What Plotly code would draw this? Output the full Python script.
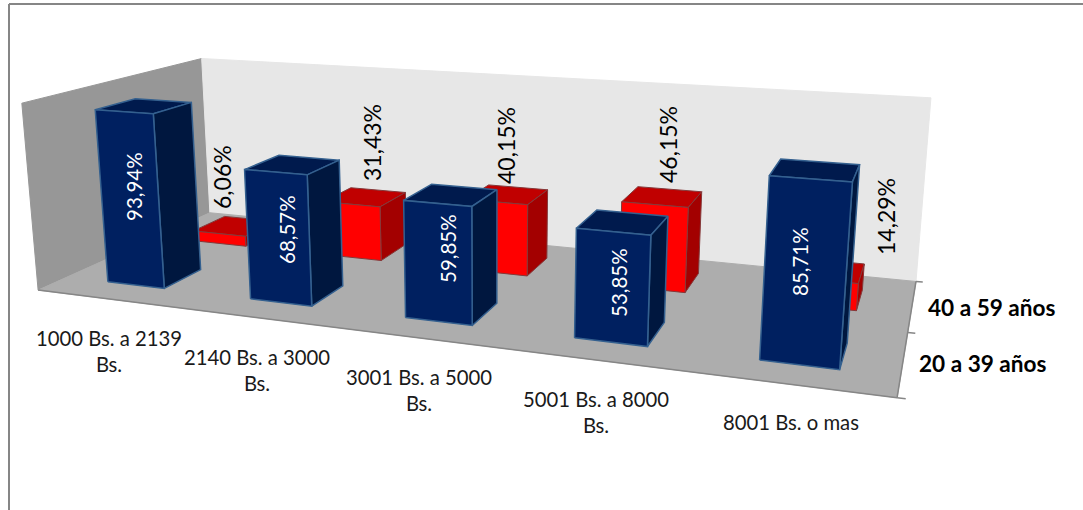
import numpy as np
import plotly.graph_objects as go

# Chart data
categories = ["1000 Bs. a 2139<br>Bs.", "2140 Bs. a 3000<br>Bs.", "3001 Bs. a 5000<br>Bs.",
              "5001 Bs. a 8000<br>Bs.", "8001 Bs. o mas"]
series_names = ["20 a 39 años", "40 a 59 años"]
values_young = [93.94, 68.57, 59.85, 53.85, 85.71]
values_older = [6.06, 31.43, 40.15, 46.15, 14.29]
value_labels_young = ["93,94%", "68,57%", "59,85%", "53,85%", "85,71%"]
value_labels_older = ["6,06%", "31,43%", "40,15%", "46,15%", "14,29%"]

W, H = 1083, 510
FONT = "Lato"

# Camera calibration: box corners (category, series depth, percent) and where they land on the page
box_world = [(0, 0, 0), (5, 0, 0), (5, 2, 0), (0, 2, 0), (0, 0, 100), (0, 2, 100), (5, 2, 100)]
box_page = [(38, 290), (897, 398), (916, 281), (210, 213), (22, 103), (201.5, 58.5), (931, 98)]


def solve_camera(world, page):
    rows = []
    for (x, y, z), (u, v) in zip(world, page):
        p = [x / 5, y / 2, z / 100, 1]
        rows.append(p + [0, 0, 0, 0] + [-u * c for c in p])
        rows.append([0, 0, 0, 0] + p + [-v * c for c in p])
    return np.linalg.svd(np.array(rows))[2][-1].reshape(3, 4)


CAMERA = solve_camera(box_world, box_page)


def project(x, y, z):
    u, v, w = CAMERA @ np.array([x / 5, y / 2, z / 100, 1])
    return u / w, v / w


fig = go.Figure()


def face(corners, fill, edge=None, width=1.0):
    pts = [project(*c) for c in corners]
    pts.append(pts[0])
    fig.add_trace(go.Scatter(
        x=[p[0] for p in pts], y=[p[1] for p in pts], mode="lines", fill="toself",
        fillcolor=fill, line=dict(color=edge or fill, width=width),
        hoverinfo="skip", showlegend=False))


def segment(a, b, color, width):
    pts = [project(*a), project(*b)]
    fig.add_trace(go.Scatter(
        x=[p[0] for p in pts], y=[p[1] for p in pts], mode="lines",
        line=dict(color=color, width=width), hoverinfo="skip", showlegend=False))


def bar(cat, row, value, front, top, side, edge, width):
    x0, x1 = cat + (1 - BAR_W) / 2, cat + (1 + BAR_W) / 2
    y0, y1 = row + (1 - BAR_D) / 2, row + (1 + BAR_D) / 2
    face([(x0, y0, value), (x1, y0, value), (x1, y1, value), (x0, y1, value)], top, edge, width)
    face([(x1, y0, 0), (x1, y1, 0), (x1, y1, value), (x1, y0, value)], side, edge, width)
    face([(x0, y0, 0), (x1, y0, 0), (x1, y0, value), (x0, y0, value)], front, edge, width)


BAR_W = 0.405
BAR_D = 0.42

# Walls and floor
face([(0, 0, 0), (0, 2, 0), (0, 2, 100), (0, 0, 100)], "#979797")
face([(0, 2, 0), (5, 2, 0), (5, 2, 100), (0, 2, 100)], "#e7e7e7")
face([(0, 0, 0), (5, 0, 0), (5, 2, 0), (0, 2, 0)], "#adadad")

# Floor edges and depth ticks
segment((0, 0, 0), (5, 0, 0), "#868686", 1.5)
segment((5, 0, 0), (5, 2, 0), "#868686", 1.5)
for d in range(3):
    segment((5, d, 0), (5.04, d, 0), "#868686", 1.5)

# Rear series first so the front series paints over it
for i, v in enumerate(values_older):
    bar(i, 1, v, "#ff0000", "#c00000", "#a30000", "#84393a", 1)
for i, v in enumerate(values_young):
    bar(i, 0, v, "#002060", "#001a4d", "#00173f", "#34608f", 1.5)

annotations = []


def label(text, x, y, size, color, angle=0, bold=False):
    annotations.append(dict(
        text=f"<b>{text}</b>" if bold else text, x=x, y=y, xref="x", yref="y", showarrow=False,
        xanchor="center", yanchor="middle", textangle=angle,
        font=dict(family=FONT, size=size, color=color)))


young_anchor = [(134, 187), (287, 230), (448, 249), (619, 283), (800, 262)]
older_anchor = [(222, 177), (372, 143), (506, 146), (668, 145), (886, 217)]
category_anchor = [(109, 351), (257, 369.5), (419, 389.5), (596, 412), (791, 422)]
series_anchor = [(982.5, 363), (992, 307)]

for t, (x, y) in zip(value_labels_young, young_anchor):
    label(t, x, y, 20.5, "#ffffff", -90)
for t, (x, y) in zip(value_labels_older, older_anchor):
    label(t, x, y, 23, "#000000", -90)
for t, (x, y) in zip(categories, category_anchor):
    label(t, x, y, 20.3, "#1a1a1a")
for t, (x, y) in zip(series_names, series_anchor):
    label(t, x, y, 22.6, "#000000", bold=True)

fig.update_layout(
    width=W, height=H, margin=dict(l=0, r=0, t=0, b=0),
    paper_bgcolor="#ffffff", plot_bgcolor="#ffffff", showlegend=False,
    xaxis=dict(range=[0, W], visible=False, fixedrange=True),
    yaxis=dict(range=[H, 0], visible=False, fixedrange=True),
    annotations=annotations,
    shapes=[dict(type="line", xref="x", yref="y", x0=9, y0=4, x1=9, y1=H, line=dict(color="#868686", width=2)),
            dict(type="line", xref="x", yref="y", x0=9, y0=4, x1=W, y1=4, line=dict(color="#868686", width=2))],
)
fig.write_html("out.html", config=dict(displayModeBar=False))
